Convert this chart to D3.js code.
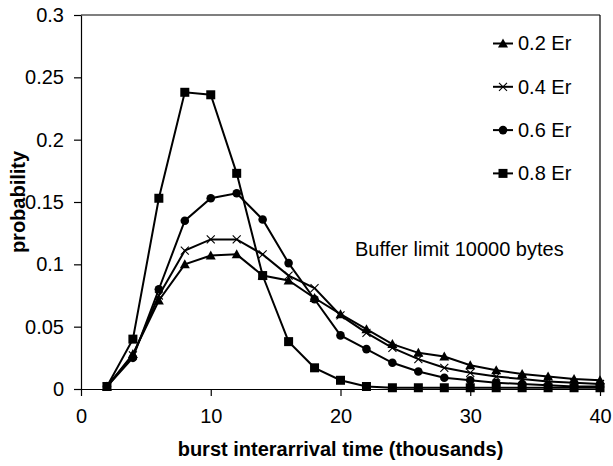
<!DOCTYPE html>
<html><head><meta charset="utf-8">
<script src="https://cdn.jsdelivr.net/npm/d3@7"></script>
<style>body{margin:0;background:#fff}svg{display:block}text{font-family:"Liberation Sans",Arial,sans-serif;fill:#000}</style>
</head><body><svg id="c" width="613" height="466"></svg>
<script>
const xValues = [2,4,6,8,10,12,14,16,18,20,22,24,26,28,30,32,34,36,38,40];
const er02 = [0.002,0.028,0.071,0.100,0.107,0.108,0.091,0.087,0.073,0.060,0.048,0.036,0.029,0.026,0.019,0.015,0.012,0.010,0.008,0.007];
const er04 = [0.002,0.027,0.075,0.111,0.120,0.120,0.108,0.091,0.081,0.059,0.045,0.033,0.024,0.017,0.013,0.010,0.008,0.006,0.005,0.004];
const er06 = [0.002,0.025,0.080,0.135,0.153,0.157,0.136,0.101,0.072,0.043,0.032,0.021,0.014,0.009,0.007,0.005,0.004,0.003,0.002,0.002];
const er08 = [0.002,0.040,0.153,0.238,0.236,0.173,0.091,0.038,0.017,0.007,0.002,0.001,0.001,0.001,0.001,0.001,0.001,0.001,0.001,0.001];
const seriesNames = ["0.2 Er","0.4 Er","0.6 Er","0.8 Er"];
const seriesMarkers = ["triangle","cross","circle","square"];
const xTicks = [0,10,20,30,40];
const yTicks = [0,0.05,0.1,0.15,0.2,0.25,0.3];
const xTitle = "burst interarrival time (thousands)";
const yTitle = "probability";
const note = "Buffer limit 10000 bytes";

const series = [er02,er04,er06,er08].map((v,i)=>({name:seriesNames[i],marker:seriesMarkers[i],values:v}));

const svg = d3.select("#c");
const L=81, R=600, T=15, B=389;
const x = d3.scaleLinear().domain([0,40]).range([L,R]);
const y = d3.scaleLinear().domain([0,0.3]).range([B,T]);

// frame
svg.append("line").attr("x1",L).attr("x2",R).attr("y1",T).attr("y2",T).attr("stroke","#000").attr("stroke-width",1.2);
svg.append("line").attr("x1",R).attr("x2",R).attr("y1",T).attr("y2",B).attr("stroke","#000").attr("stroke-width",1.2);

const fmt = d => d===0 ? "0" : String(+d.toFixed(2));
const gx = svg.append("g").attr("transform",`translate(0,${B})`)
  .call(d3.axisBottom(x).tickValues(xTicks).tickSize(7).tickSizeOuter(0).tickPadding(13).tickFormat(d3.format("d")));
const gy = svg.append("g").attr("transform",`translate(${L},0)`)
  .call(d3.axisLeft(y).tickValues(yTicks).tickSize(7).tickSizeOuter(0).tickPadding(10).tickFormat(fmt));
[gx,gy].forEach(g=>{
  g.select(".domain").attr("stroke","#000").attr("stroke-width",1.2);
  g.selectAll(".tick line").attr("stroke","#000").attr("stroke-width",1.2);
  g.selectAll(".tick text").attr("font-size",20).attr("font-family","Liberation Sans, Arial, sans-serif").attr("fill","#000");
});

function drawMarker(g, type, cx, cy){
  if(type==="square"){
    g.append("rect").attr("x",cx-4.5).attr("y",cy-4.5).attr("width",9).attr("height",9).attr("fill","#000");
  } else if(type==="circle"){
    g.append("circle").attr("cx",cx).attr("cy",cy).attr("r",4.3).attr("fill","#000");
  } else if(type==="triangle"){
    g.append("path").attr("d",`M${cx},${cy-5}L${cx+5},${cy+4}L${cx-5},${cy+4}Z`).attr("fill","#000");
  } else {
    g.append("path").attr("d",`M${cx-4},${cy-4}L${cx+4},${cy+4}M${cx-4},${cy+4}L${cx+4},${cy-4}`).attr("stroke","#000").attr("stroke-width",1.1).attr("fill","none");
  }
}

const line = d3.line().x((d,i)=>x(xValues[i])).y(d=>y(d));
series.forEach(s=>{
  const g = svg.append("g");
  g.append("path").attr("d",line(s.values)).attr("fill","none").attr("stroke","#000").attr("stroke-width",2);
  s.values.forEach((v,i)=>drawMarker(g,s.marker,x(xValues[i]),y(v)));
});

// legend
series.forEach((s,i)=>{
  const yy = 43.5 + i*43.3;
  const g = svg.append("g");
  g.append("line").attr("x1",493).attr("x2",513).attr("y1",yy).attr("y2",yy).attr("stroke","#000").attr("stroke-width",2);
  drawMarker(g,s.marker,503,yy);
  g.append("text").attr("x",518).attr("y",yy+6.8).attr("font-size",20).text(s.name);
});

svg.append("text").attr("x",355).attr("y",256).attr("font-size",20).text(note);
svg.append("text").attr("x",(L+R)/2).attr("y",456).attr("text-anchor","middle").attr("font-size",20).attr("font-weight","bold").text(xTitle);
svg.append("text").attr("transform",`translate(25,${(T+B)/2}) rotate(-90)`).attr("text-anchor","middle").attr("font-size",20).attr("font-weight","bold").text(yTitle);
</script></body></html>
